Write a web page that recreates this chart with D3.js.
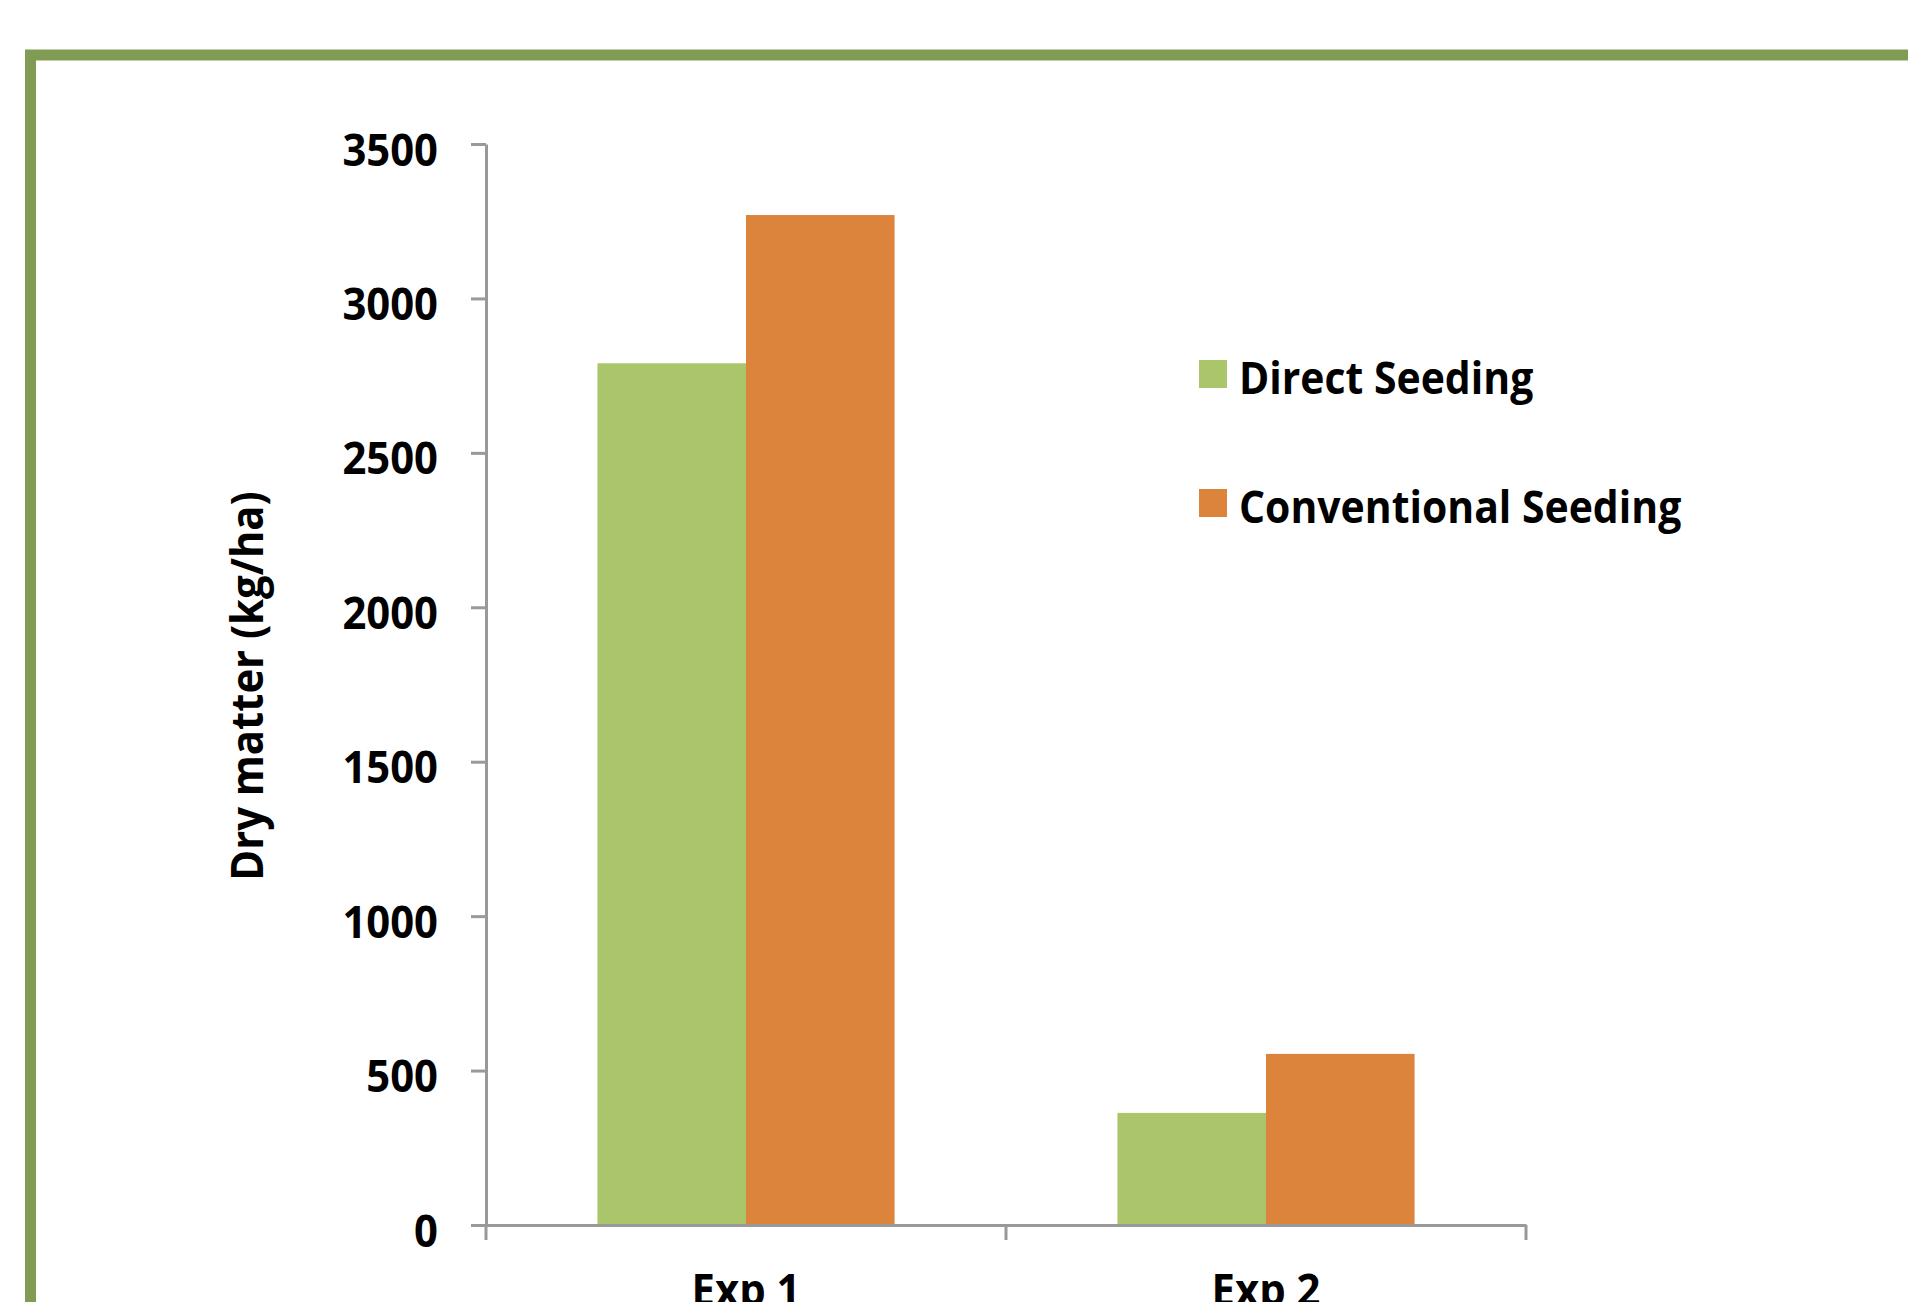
<!DOCTYPE html>
<html>
<head>
<meta charset="utf-8">
<script src="https://cdn.jsdelivr.net/npm/d3@7/dist/d3.min.js"></script>
<style>
  html, body { margin: 0; padding: 0; background: #fff; overflow: hidden; }
  svg { display: block; }
  text { font-family: "Open Sans", sans-serif; font-weight: 700; fill: #000; }
</style>
</head>
<body>
<svg id="chart" width="1908" height="1302"></svg>
<script>
// ---- data ----
const categories = ["Exp 1", "Exp 2"];
const seriesNames = ["Direct Seeding", "Conventional Seeding"];
const directSeeding = [2790, 363];
const conventionalSeeding = [3270, 554];
const yTicks = [0, 500, 1000, 1500, 2000, 2500, 3000, 3500];
const yTitle = "Dry matter (kg/ha)";
const colors = ["#abc56b", "#dc833c"];

const seriesValues = [directSeeding, conventionalSeeding];
const rows = categories.map((c, i) => ({
  cat: c,
  vals: seriesNames.map((s, j) => ({ key: s, value: seriesValues[j][i] }))
}));

const svg = d3.select("#chart");
const FS = 44;

// frame border
svg.append("rect")
  .attr("x", 30.5).attr("y", 55)
  .attr("width", 2400).attr("height", 2400)
  .attr("fill", "none")
  .attr("stroke", "#809b53")
  .attr("stroke-width", 11);

const plotL = 486, plotR = 1526, plotT = 144, plotB = 1225;

const x = d3.scaleBand().domain(categories).range([plotL, plotR]).paddingInner(0).paddingOuter(0);
const x1 = d3.scaleBand().domain(seriesNames).range([0, x.bandwidth()]).paddingInner(0).paddingOuter(0.75);
const y = d3.scaleLinear().domain([0, 3500]).range([plotB, plotT]);
const color = d3.scaleOrdinal().domain(seriesNames).range(colors);

// bars
svg.append("g").selectAll("g.cat").data(rows).join("g")
  .attr("class", "cat")
  .attr("transform", d => `translate(${x(d.cat)},0)`)
  .selectAll("rect").data(d => d.vals).join("rect")
  .attr("x", d => x1(d.key))
  .attr("width", x1.bandwidth())
  .attr("y", d => y(d.value))
  .attr("height", d => y(0) - y(d.value))
  .attr("fill", d => color(d.key));

// y axis
const yAxis = svg.append("g")
  .attr("transform", `translate(${plotL},0)`)
  .call(d3.axisLeft(y).tickValues(yTicks).tickSize(15).tickSizeOuter(0).tickPadding(33).tickFormat(d3.format("d")));
yAxis.select(".domain").attr("stroke", "#999").attr("stroke-width", 3);
yAxis.selectAll(".tick line").attr("stroke", "#999").attr("stroke-width", 3);
yAxis.selectAll(".tick text")
  .attr("font-size", FS).attr("dy", "0.48em")
  .style("font-family", "'Open Sans', sans-serif").style("font-weight", 700).attr("fill", "#000");

// x axis (labels)
const xAxis = svg.append("g")
  .attr("transform", `translate(0,${plotB})`)
  .call(d3.axisBottom(x).tickSize(0).tickSizeOuter(0).tickPadding(50));
xAxis.select(".domain").attr("stroke", "#999").attr("stroke-width", 3);
xAxis.selectAll(".tick text")
  .attr("font-size", FS).attr("dy", "0.71em")
  .style("font-family", "'Open Sans', sans-serif").style("font-weight", 700).attr("fill", "#000");

// x boundary ticks
const bounds = categories.map(c => x(c)).concat([x(categories[categories.length - 1]) + x.bandwidth()]);
svg.append("g").selectAll("line").data(bounds).join("line")
  .attr("x1", d => d).attr("x2", d => d)
  .attr("y1", plotB).attr("y2", plotB + 15)
  .attr("stroke", "#999").attr("stroke-width", 3);

// y title
svg.append("text")
  .attr("transform", `translate(263,686) rotate(-90)`)
  .attr("text-anchor", "middle")
  .attr("font-size", FS)
  .text(yTitle);

// legend
const legend = svg.append("g").attr("transform", "translate(1199,360)");
const li = legend.selectAll("g").data(seriesNames).join("g")
  .attr("transform", (d, i) => `translate(0,${i * 129})`);
li.append("rect").attr("width", 28).attr("height", 28).attr("fill", d => color(d));
li.append("text").attr("class", "leg").attr("x", 40).attr("y", 34).attr("font-size", FS).text(d => d);

// condense text slightly toward the reference proportions
svg.selectAll("text").each(function() {
  const len = this.getComputedTextLength();
  const k = d3.select(this).classed("leg") ? 0.93 : 0.95;
  d3.select(this).attr("textLength", len * k).attr("lengthAdjust", "spacingAndGlyphs");
});
</script>
</body>
</html>
